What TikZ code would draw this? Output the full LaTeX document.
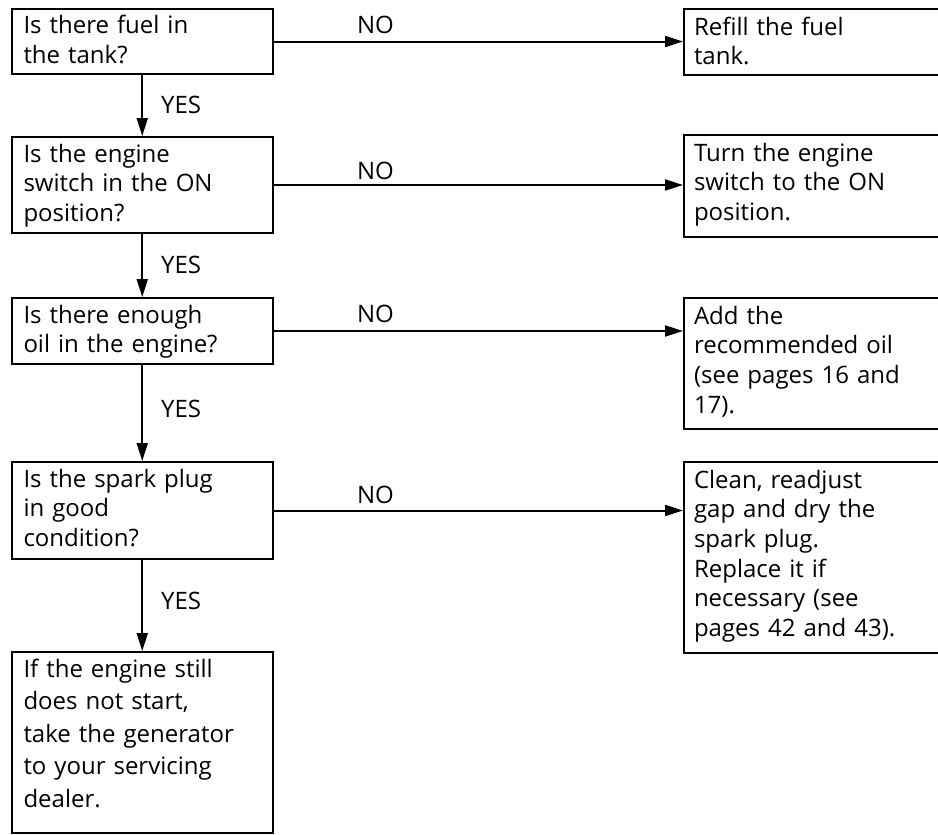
\documentclass[tikz,border=0pt]{standalone}
\usepackage{fontspec}
\setmainfont{Open Sans}
\usetikzlibrary{arrows.meta}
\tikzset{
  box/.style={draw, line width=2pt, anchor=north west, align=left, inner xsep=12pt, inner ysep=7pt,
    font=\fontsize{24}{29.7}\selectfont},
  lbox/.style={box, text width=237.5pt, text height=18pt, text depth=#1},
  rbox/.style={box, text width=240pt, inner xsep=10pt, text height=19pt, text depth=#1},
  conn/.style={line width=2pt, -{Triangle[length=18pt,width=11pt]}},
  lbl/.style={font=\fontsize{24}{29.7}\selectfont, inner sep=0pt}
}
\begin{document}
\begin{tikzpicture}[x=1pt,y=-1pt]
\useasboundingbox (0,0) rectangle (938,835);
% left column
\node[lbox=33pt] (l1) at (10.5,8) {Is there fuel in\\the tank?};
\node[lbox=64pt] (l2) at (10.5,136) {Is the engine\\switch in the ON\\position?};
\node[lbox=34pt] (l3) at (10.5,297) {Is there enough\\oil in the engine?};
\node[lbox=65pt] (l4) at (10.5,461) {Is the spark plug\\in good\\condition?};
\node[lbox=149pt, font=\fontsize{24}{32.5}\selectfont] (l5) at (10.5,651) {If the engine still\\does not start,\\take the generator\\to your servicing\\dealer.};
% right column
\node[rbox=33pt] (r1) at (683,8) {Refill the fuel\\tank.};
\node[rbox=69pt] (r2) at (683,134) {Turn the engine\\switch to the ON\\position.};
\node[rbox=98pt] (r3) at (683,297) {Add the\\recommended oil\\(see pages 16 and\\17).};
\node[rbox=158pt] (r4) at (683,461) {Clean, readjust\\gap and dry the\\spark plug.\\Replace it if\\necessary (see\\pages 42 and 43).};
% YES arrows
\draw[conn] (l1.south) -- (l2.north);
\draw[conn] (l2.south) -- (l3.north);
\draw[conn] (l3.south) -- (l4.north);
\draw[conn] (l4.south) -- (l5.north);
% NO arrows
\draw[conn] (l1.east) -- (l1.east -| r1.west);
\draw[conn] (l2.east) -- (l2.east -| r2.west);
\draw[conn] (l3.east) -- (l3.east -| r3.west);
\draw[conn] (l4.east) -- (l4.east -| r4.west);
% labels
\node[lbl, anchor=base west] (y1) at (161,113) {YES};
\node[lbl, anchor=base west] (y2) at (161,273) {YES};
\node[lbl, anchor=base west] (y3) at (161,417) {YES};
\node[lbl, anchor=base west] (y4) at (161,609) {YES};
\node[lbl, anchor=base] (n1) at (375.5,34) {NO};
\node[lbl, anchor=base] (n2) at (375.5,179) {NO};
\node[lbl, anchor=base] (n3) at (375.5,322) {NO};
\node[lbl, anchor=base] (n4) at (375.5,503) {NO};
\end{tikzpicture}
\end{document}
